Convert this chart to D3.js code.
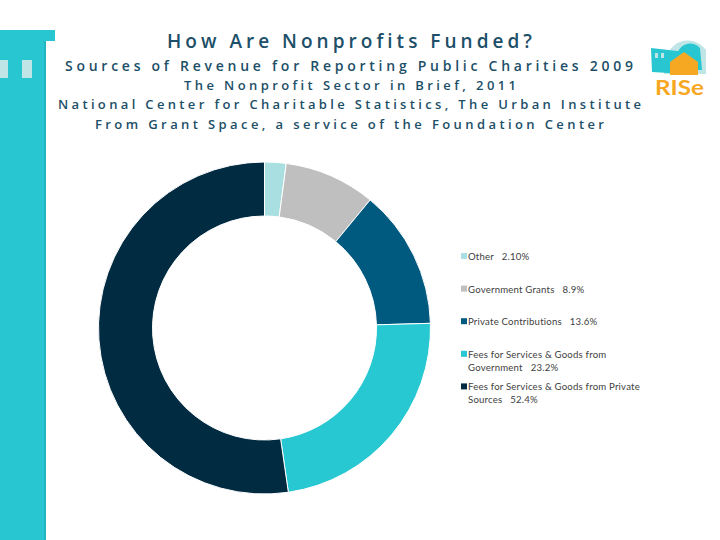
<!DOCTYPE html>
<html>
<head>
<meta charset="utf-8">
<script src="https://cdn.jsdelivr.net/npm/d3@7"></script>
<style>
  body { margin: 0; background: #fff; }
  svg { display: block; font-family: Lato, "Open Sans", sans-serif; font-variant-ligatures: none; }
</style>
</head>
<body>
<div id="chart"></div>
<script>
// Sources of revenue, reporting public charities 2009
const categories = ["Other", "Government Grants", "Private Contributions",
  "Fees for Services & Goods from Government", "Fees for Services & Goods from Private Sources"];
const values = [2.1, 8.9, 13.6, 23.2, 52.4];
const valueLabels = ["2.10%", "8.9%", "13.6%", "23.2%", "52.4%"];
const sliceColors = ["#a9dfe1", "#bfbfbf", "#005a80", "#27c8d2", "#002b41"];

const titleLines = [
  "How Are Nonprofits Funded?",
  "Sources of Revenue for Reporting Public Charities 2009",
  "The Nonprofit Sector in Brief, 2011",
  "National Center for Charitable Statistics, The Urban Institute",
  "From Grant Space, a service of the Foundation Center"
];

const width = 720, height = 540;
const svg = d3.select("#chart").append("svg")
  .attr("width", width).attr("height", height);

// left decoration (building)
const deco = svg.append("g");
deco.append("rect").attr("x", 0).attr("y", 30).attr("width", 55).attr("height", 11).attr("fill", "#27c6d0");
deco.append("rect").attr("x", 0).attr("y", 30).attr("width", 46).attr("height", 510).attr("fill", "#27c6d0");
deco.append("rect").attr("x", 44).attr("y", 41).attr("width", 2).attr("height", 499).attr("fill", "#22b5bf");
deco.append("rect").attr("x", 0).attr("y", 60).attr("width", 8).attr("height", 18).attr("fill", "#bfe5e6");
deco.append("rect").attr("x", 22).attr("y", 60).attr("width", 10).attr("height", 18).attr("fill", "#bfe5e6");

// titles
const titleSpecs = [
  { y: 48, size: 19, weight: 600, x0: 167, x1: 532 },
  { y: 71, size: 14, weight: 600, x0: 65, x1: 633 },
  { y: 90, size: 13, weight: 600, x0: 184, x1: 516 },
  { y: 109, size: 13, weight: 600, x0: 58, x1: 641 },
  { y: 129, size: 13, weight: 600, x0: 95, x1: 604 }
];
titleLines.forEach((t, i) => {
  const s = titleSpecs[i];
  svg.append("text")
    .attr("x", s.x0)
    .attr("y", s.y)
    .attr("textLength", s.x1 - s.x0)
    .attr("lengthAdjust", "spacing")
    .style("font-family", "'Open Sans', sans-serif")
    .style("font-size", s.size + "px")
    .style("font-weight", s.weight)
    .attr("fill", "#1d4f68")
    .text(t);
});

// RISE logo
const logo = svg.append("g");
logo.append("path").attr("d", "M664,66 A24,28 0 0 1 706,50 L706,74 L664,74 Z").attr("fill", "#bfe5e6");
logo.append("path").attr("d", "M678,52 A13,13 0 0 1 700,48 L702,70 L678,70 Z").attr("fill", "#27c6d0");
logo.append("path").attr("d", "M651,48 L686,52 L684,74 L652,72 Z").attr("fill", "#27c6d0");
logo.append("rect").attr("x", 655).attr("y", 53).attr("width", 3).attr("height", 5).attr("fill", "#bfe5e6");
logo.append("rect").attr("x", 661).attr("y", 53).attr("width", 3).attr("height", 5).attr("fill", "#bfe5e6");
logo.append("path").attr("d", "M670,62 L684,52 L698,62 L698,75 L670,75 Z").attr("fill", "#f7a823");
logo.append("text").attr("x", 655).attr("y", 95)
  .attr("textLength", 49).attr("lengthAdjust", "spacingAndGlyphs")
  .style("font-size", "21px").style("font-weight", 700)
  .attr("fill", "#f7a823").text("RISe");

// donut
const cx = 264.5, cy = 328, outerR = 166, innerR = 112;
const pie = d3.pie().sort(null).value(d => d);
const arc = d3.arc().innerRadius(innerR).outerRadius(outerR);

svg.append("g")
  .attr("transform", `translate(${cx},${cy})`)
  .selectAll("path")
  .data(pie(values))
  .join("path")
    .attr("d", arc)
    .attr("fill", (d, i) => sliceColors[i])
    .attr("stroke", "#fff")
    .attr("stroke-width", 1);

// legend
const legendX = 461, legendY0 = 253, legendStep = 32.6;
const legend = svg.append("g").style("font-size", "9.6px").attr("fill", "#404040")
  .style("letter-spacing", "0.2px");
categories.forEach((c, i) => {
  const y = legendY0 + i * legendStep;
  legend.append("rect").attr("x", legendX).attr("y", y).attr("width", 6).attr("height", 6)
    .attr("fill", sliceColors[i]);
  const words = (c + "\u00a0\u00a0\u00a0" + valueLabels[i]).split(" ");
  const tx = legendX + 7;
  const txt = legend.append("text").attr("x", tx).attr("y", y + 7);
  let line = [];
  let tspan = txt.append("tspan").attr("x", tx).attr("dy", 0);
  words.forEach(w => {
    line.push(w);
    tspan.text(line.join(" "));
    if (tspan.node().getComputedTextLength() > 178 && line.length > 1) {
      line.pop();
      tspan.text(line.join(" "));
      line = [w];
      tspan = txt.append("tspan").attr("x", tx).attr("dy", 13).text(w);
    }
  });
});
</script>
</body>
</html>
